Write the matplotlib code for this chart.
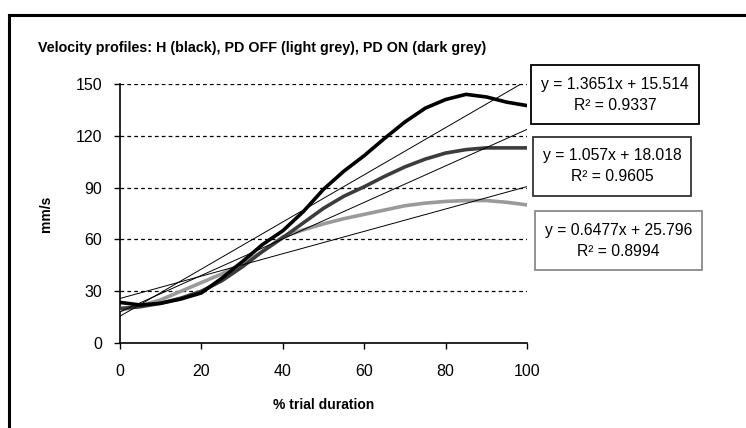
import matplotlib

matplotlib.use("Agg")

import matplotlib.pyplot as plt
import numpy as np
from matplotlib.lines import Line2D
from matplotlib.patches import Rectangle

plt.rcParams["font.family"] = ["Liberation Sans", "DejaVu Sans"]

# % trial duration and mean velocity (mm/s) per group
pct = [0, 5, 10, 15, 20, 25, 30, 35, 40, 45, 50, 55, 60, 65, 70, 75, 80, 85, 90, 95, 100]
h_black = [23.5, 22, 23, 25.5, 29, 37.5, 47, 57, 65, 76, 89, 99.5, 108.5, 118.5,
           128, 136, 141, 144, 142.5, 139.5, 137.5]
pd_on = [20, 21, 23, 26, 30, 36, 44, 53, 61, 69.5, 78, 85, 90.5, 96.5, 102,
         106.5, 110, 112, 113, 113, 113]
pd_off = [19, 21.5, 25, 30, 35, 40, 46, 53, 61.5, 65.5, 69, 72, 74.5, 77, 79.5,
          81, 82, 82.5, 82.5, 81.5, 80]

# linear trendlines as labelled
slopes = [1.3651, 1.057, 0.6477]
intercepts = [15.514, 18.018, 25.796]
r2 = ["0.9337", "0.9605", "0.8994"]
yticks = [0, 30, 60, 90, 120, 150]
xticks = [0, 20, 40, 60, 80, 100]

W, H = 746, 428
fig = plt.figure(figsize=(W / 100, H / 100), dpi=100)
ax = fig.add_axes([120 / W, 1 - 343 / H, 407 / W, 259 / H])

for y in yticks[1:]:
    ax.axhline(y, color="black", lw=0.9, ls=(0, (3, 2.5)), zorder=1)

ax.plot(pct, pd_off, color="#9a9a9a", lw=2.6, solid_joinstyle="round", zorder=3)
ax.plot(pct, pd_on, color="#3c3c3c", lw=2.6, solid_joinstyle="round", zorder=3)
ax.plot(pct, h_black, color="#000000", lw=2.6, solid_joinstyle="round", zorder=4)

ends = np.array([0, 100])
for m, b in zip(slopes, intercepts):
    ax.plot(ends, m * ends + b, color="black", lw=0.7, zorder=5)

ax.set_xlim(0, 100)
ax.set_ylim(0, 150)
ax.set_xticks(xticks)
ax.set_yticks(yticks)
ax.spines[["top", "right"]].set_visible(False)
ax.spines[["left", "bottom"]].set_linewidth(1.2)
ax.tick_params(direction="out", length=4, width=1, labelsize=11.5)
ax.tick_params(axis="x", pad=11)
ax.tick_params(axis="y", pad=9)
ax.set_ylabel("mm/s", fontsize=10, fontweight="bold", labelpad=16)
ax.set_xlabel("% trial duration", fontsize=10, fontweight="bold", labelpad=14)

fig.text(38 / W, 1 - 48 / H,
         "Velocity profiles: H (black), PD OFF (light grey), PD ON (dark grey)",
         fontsize=10.3, fontweight="bold", va="center", ha="left")

# trendline equation boxes
boxes = [(531, 65, 168, 59, "black"), (533, 137, 158, 59, "#333333"),
         (535, 211, 167, 59, "#8a8a8a")]
for (x0, y0, bw, bh, ec), m, b, r in zip(boxes, slopes, intercepts, r2):
    fig.patches.append(Rectangle((x0 / W, 1 - (y0 + bh) / H), bw / W, bh / H,
                                 transform=fig.transFigure, fill=False,
                                 ec=ec, lw=1.3))
    cx = (x0 + bw / 2) / W
    fig.text(cx, 1 - (y0 + 19) / H, f"y = {m}x + {b}", fontsize=11.3,
             ha="center", va="center")
    fig.text(cx, 1 - (y0 + 40) / H, f"R² = {r}", fontsize=11.3,
             ha="center", va="center")

# outer frame (top and left edges visible)
fig.lines.append(Line2D([9 / W, 1], [1 - 15 / H] * 2, transform=fig.transFigure,
                        color="black", lw=2.2))
fig.lines.append(Line2D([9 / W] * 2, [0, 1 - 15 / H], transform=fig.transFigure,
                        color="black", lw=2.2))

fig.savefig("out.png", dpi=100)
